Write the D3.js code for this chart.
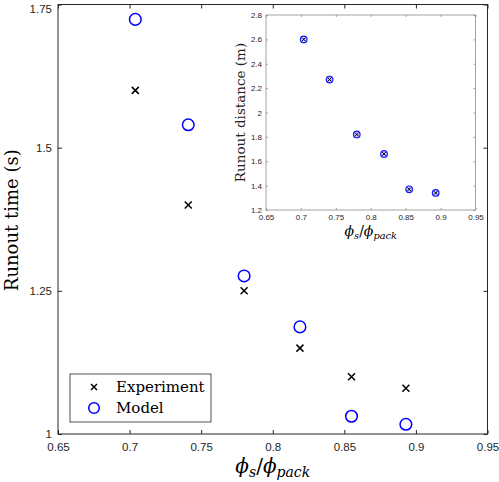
<!DOCTYPE html>
<html>
<head>
<meta charset="utf-8">
<script src="https://cdn.jsdelivr.net/npm/d3@7"></script>
<style>
  body { margin: 0; background: #fff; }
  svg { display: block; }
</style>
</head>
<body>
<script>
// packing ratio phi_s / phi_pack for each run
const phiRatio = [0.704, 0.741, 0.780, 0.819, 0.855, 0.893];
// runout time (s)
const timeExperiment = [1.60, 1.40, 1.25, 1.15, 1.10, 1.08];
const timeModel = [1.724, 1.540, 1.276, 1.187, 1.031, 1.017];
// runout distance (m), inset
const distExperiment = [2.60, 2.27, 1.82, 1.66, 1.37, 1.34];
const distModel = [2.60, 2.27, 1.82, 1.66, 1.37, 1.34];

const xTicks = [0.65, 0.7, 0.75, 0.8, 0.85, 0.9, 0.95];
const yTicks = [1, 1.25, 1.5, 1.75];
const insetYTicks = [1.2, 1.4, 1.6, 1.8, 2, 2.2, 2.4, 2.6, 2.8];
const legendLabels = ["Experiment", "Model"];

const width = 499, height = 482;
const axisColor = "#262626";
const sans = "'Liberation Sans', Arial, sans-serif";
const serif = "'DejaVu Serif', serif";

const svg = d3.select("body").append("svg")
  .attr("width", width)
  .attr("height", height);

// main axes
const m = { left: 58, right: 487.5, top: 4.5, bottom: 434 };
const x = d3.scaleLinear().domain([0.65, 0.95]).range([m.left, m.right]);
const y = d3.scaleLinear().domain([1, 1.75]).range([m.bottom, m.top]);

function drawAxes(g, xs, ys, xt, yt, opts) {
  const fmt = d => String(+d.toFixed(2));
  g.append("g")
    .attr("transform", `translate(0,${ys.range()[0]})`)
    .call(d3.axisBottom(xs).tickValues(xt).tickSize(-opts.tick).tickFormat(fmt).tickPadding(opts.padX + opts.tick))
    .call(a => a.select(".domain").remove());
  g.append("g")
    .attr("transform", `translate(${xs.range()[0]},0)`)
    .call(d3.axisLeft(ys).tickValues(yt).tickSize(-opts.tick).tickFormat(fmt).tickPadding(opts.padY + opts.tick))
    .call(a => a.select(".domain").remove());
  // mirrored ticks on top and right
  g.append("g")
    .attr("transform", `translate(0,${ys.range()[1]})`)
    .call(d3.axisTop(xs).tickValues(xt).tickSize(-opts.tick).tickFormat(""))
    .call(a => a.select(".domain").remove());
  g.append("g")
    .attr("transform", `translate(${xs.range()[1]},0)`)
    .call(d3.axisRight(ys).tickValues(yt).tickSize(-opts.tick).tickFormat(""))
    .call(a => a.select(".domain").remove());
  g.selectAll(".tick line").attr("stroke", opts.color).attr("stroke-width", opts.stroke);
  g.selectAll(".tick text")
    .attr("fill", axisColor)
    .attr("font-family", sans)
    .attr("font-size", opts.font);
  g.append("rect")
    .attr("x", xs.range()[0])
    .attr("y", ys.range()[1])
    .attr("width", xs.range()[1] - xs.range()[0])
    .attr("height", ys.range()[0] - ys.range()[1])
    .attr("fill", "none")
    .attr("stroke", opts.color)
    .attr("stroke-width", opts.stroke);
}

const main = svg.append("g");
drawAxes(main, x, y, xTicks, yTicks, { tick: 4, padX: 4.5, padY: 2, font: 11.5, color: axisColor, stroke: 1 });
// keep the top label inside the frame
main.selectAll(".tick text").filter(d => d === 1.75).attr("dy", "0.7em");

function crossPath(cx, cy, s) {
  return `M${cx - s},${cy - s}L${cx + s},${cy + s}M${cx - s},${cy + s}L${cx + s},${cy - s}`;
}

main.append("g")
  .selectAll("path")
  .data(phiRatio.map((p, i) => [p, timeExperiment[i]]))
  .join("path")
  .attr("d", d => crossPath(x(d[0]), y(d[1]), 3.5))
  .attr("stroke", "#000")
  .attr("stroke-width", 1.5)
  .attr("fill", "none");

main.append("g")
  .selectAll("circle")
  .data(phiRatio.map((p, i) => [p, timeModel[i]]))
  .join("circle")
  .attr("cx", d => x(d[0]))
  .attr("cy", d => y(d[1]))
  .attr("r", 5.8)
  .attr("fill", "none")
  .attr("stroke", "#0000ff")
  .attr("stroke-width", 1.5);

// axis labels
svg.append("text")
  .attr("transform", `translate(18,${(m.top + m.bottom) / 2 + 1}) rotate(-90)`)
  .attr("text-anchor", "middle")
  .attr("font-family", serif)
  .attr("font-size", 18)
  .attr("fill", "#000")
  .text("Runout time (s)");

function phiLabel(sel, fs) {
  sel.attr("font-family", serif).attr("font-style", "italic").attr("font-size", fs).attr("fill", "#000");
  sel.append("tspan").text("ϕ");
  sel.append("tspan").attr("font-size", fs * 0.7).attr("dy", fs * 0.2).text("s");
  sel.append("tspan").attr("dy", -fs * 0.2).attr("font-style", "normal").text("/");
  sel.append("tspan").text("ϕ");
  sel.append("tspan").attr("font-size", fs * 0.7).attr("dy", fs * 0.2).text("pack");
}

svg.append("text")
  .attr("x", (m.left + m.right) / 2)
  .attr("y", 473)
  .attr("text-anchor", "middle")
  .call(phiLabel, 20);

// legend
const legend = svg.append("g");
legend.append("rect")
  .attr("x", 70).attr("y", 374)
  .attr("width", 141).attr("height", 48)
  .attr("fill", "#fff")
  .attr("stroke", axisColor)
  .attr("stroke-width", 0.8);
legend.append("path")
  .attr("d", crossPath(94, 387, 3))
  .attr("stroke", "#000").attr("stroke-width", 1.5);
legend.append("circle")
  .attr("cx", 94).attr("cy", 408).attr("r", 5.3)
  .attr("fill", "none").attr("stroke", "#0000ff").attr("stroke-width", 1.5);
legend.selectAll("text")
  .data(legendLabels)
  .join("text")
  .attr("x", 116)
  .attr("y", (d, i) => 392 + i * 21)
  .attr("font-family", serif)
  .attr("font-size", 15)
  .attr("fill", "#000")
  .text(d => d);

// inset
const ins = { left: 266, right: 475.5, top: 15, bottom: 210 };
const xi = d3.scaleLinear().domain([0.65, 0.95]).range([ins.left, ins.right]);
const yi = d3.scaleLinear().domain([1.2, 2.8]).range([ins.bottom, ins.top]);
const inset = svg.append("g");
inset.append("rect")
  .attr("x", ins.left).attr("y", ins.top)
  .attr("width", ins.right - ins.left).attr("height", ins.bottom - ins.top)
  .attr("fill", "#fff");
drawAxes(inset, xi, yi, xTicks, insetYTicks, { tick: 2, padX: 2.5, padY: 2, font: 8, color: "#8c8c8c", stroke: 0.8 });

inset.append("g")
  .selectAll("circle")
  .data(phiRatio.map((p, i) => [p, distModel[i]]))
  .join("circle")
  .attr("cx", d => xi(d[0]))
  .attr("cy", d => yi(d[1]))
  .attr("r", 3.3)
  .attr("fill", "#c9c9ff")
  .attr("stroke", "#1a1aff")
  .attr("stroke-width", 1.2);
inset.append("g")
  .selectAll("path")
  .data(phiRatio.map((p, i) => [p, distExperiment[i]]))
  .join("path")
  .attr("d", d => crossPath(xi(d[0]), yi(d[1]), 1.8))
  .attr("stroke", "#000")
  .attr("stroke-width", 1);

svg.append("text")
  .attr("transform", `translate(245,${(ins.top + ins.bottom) / 2}) rotate(-90)`)
  .attr("text-anchor", "middle")
  .attr("font-family", serif)
  .attr("font-size", 13.5)
  .attr("fill", "#222")
  .text("Runout distance (m)");

svg.append("text")
  .attr("x", (ins.left + ins.right) / 2)
  .attr("y", 236)
  .attr("text-anchor", "middle")
  .call(phiLabel, 14);
</script>
</body>
</html>
